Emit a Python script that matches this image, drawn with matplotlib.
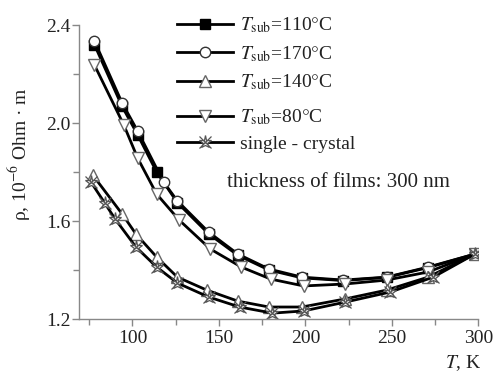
import matplotlib
matplotlib.use('Agg')
from matplotlib import pyplot as plt
from matplotlib.legend_handler import HandlerTuple

plt.rcParams['font.family'] = ['Liberation Serif', 'DejaVu Serif']
plt.rcParams['mathtext.fontset'] = 'stix'

# --- data ---
t_110 = [78, 94, 103, 114, 126, 144, 161, 179, 198, 222, 247, 271, 298]
rho_110 = [2.32, 2.068, 1.952, 1.80, 1.675, 1.548, 1.46, 1.40, 1.368, 1.357, 1.37, 1.41, 1.465]

t_170 = [78, 94, 103, 118, 126, 144, 161, 179, 198, 222, 247, 271, 298]
rho_170 = [2.335, 2.082, 1.967, 1.759, 1.682, 1.555, 1.465, 1.404, 1.371, 1.359, 1.371, 1.412, 1.465]

t_140 = [77, 94, 102, 114, 126, 143, 161, 179, 198, 223, 247, 271, 298]
rho_140 = [1.788, 1.629, 1.547, 1.453, 1.371, 1.318, 1.273, 1.249, 1.249, 1.282, 1.318, 1.371, 1.465]

t_80 = [78, 95, 103, 114, 127, 145, 163, 180, 199, 223, 247, 271, 298]
rho_80 = [2.237, 1.992, 1.857, 1.710, 1.604, 1.486, 1.412, 1.363, 1.335, 1.343, 1.359, 1.392, 1.465]

t_sc = [76, 84, 90, 102, 114, 126, 144, 162, 181, 199, 223, 249, 274, 298]
rho_sc = [1.759, 1.673, 1.608, 1.494, 1.412, 1.347, 1.290, 1.249, 1.224, 1.233, 1.269, 1.310, 1.371, 1.465]

x_ticks = [100, 150, 200, 250, 300]
y_ticks = [1.2, 1.6, 2.0, 2.4]

# --- figure ---
fig = plt.figure(figsize=(4.93, 3.74), dpi=100)
ax = fig.add_axes([0.160, 0.147, 0.810, 0.786])

lw = 2.0
ms = 7.5
h110, = ax.plot(t_110, rho_110, '-s', color='black', lw=lw, ms=6.5,
                mfc='black', mec='black')
h170, = ax.plot(t_170, rho_170, '-o', color='black', lw=lw, ms=ms,
                mfc='white', mec='#333333', mew=1.0)
h80, = ax.plot(t_80, rho_80, '-v', color='black', lw=lw, ms=ms + 1,
               mfc='white', mec='#666666', mew=1.0)
h140, = ax.plot(t_140, rho_140, '-^', color='black', lw=lw, ms=ms + 1,
                mfc='white', mec='#666666', mew=1.0)
hsc1, = ax.plot(t_sc, rho_sc, '-*', color='black', lw=lw, ms=ms + 2,
                mfc='white', mec='#555555', mew=0.9)
hsc2, = ax.plot(t_sc, rho_sc, 'x', color='#555555', ms=ms + 1, mew=0.9)

ax.set_xlim(69, 300)
ax.set_ylim(1.2, 2.4)
ax.set_xticks(x_ticks)
ax.set_yticks(y_ticks)
ax.set_xticks([75, 125, 175, 225, 275], minor=True)
ax.set_yticks([1.4, 1.8, 2.2], minor=True)
ax.set_yticklabels(['1.2', '1.6', '2.0', '2.4'])
ax.tick_params(which='both', direction='out', colors='#888888', labelcolor='#222222',
               labelsize=14, width=1.0)
ax.tick_params(which='major', length=5)
ax.tick_params(which='minor', length=4)
ax.tick_params(axis='x', pad=3)
ax.tick_params(axis='y', pad=1)

for side in ['top', 'right']:
    ax.spines[side].set_visible(False)
for side in ['left', 'bottom']:
    ax.spines[side].set_color('#888888')
    ax.spines[side].set_linewidth(1.0)

ax.set_ylabel('ρ, 10$^{-6}$ Ohm · m', fontsize=14, color='#222222')
ax.yaxis.set_label_coords(-0.115, 0.56)
ax.text(0.962, -0.15, r'$T$, K', transform=ax.transAxes, fontsize=14,
        ha='center', va='center', color='#222222')
ax.text(0.649, 0.466, 'thickness of films: 300 nm', transform=ax.transAxes,
        fontsize=15, ha='center', va='center', color='#222222')

labels_a = [r'$T_{\rm sub}$=110$\degree$C', r'$T_{\rm sub}$=170$\degree$C',
            r'$T_{\rm sub}$=140$\degree$C']
labels_b = [r'$T_{\rm sub}$=80$\degree$C', 'single - crystal']
leg_kw = dict(loc='upper left', frameon=False, fontsize=14, handlelength=2.9,
              handletextpad=0.35, borderpad=0, borderaxespad=0)
leg1 = ax.legend([h110, h170, h140], labels_a, bbox_to_anchor=(0.245, 1.033),
                 labelspacing=0.46, **leg_kw)
ax.add_artist(leg1)
leg2 = ax.legend([h80, (hsc1, hsc2)], labels_b, bbox_to_anchor=(0.245, 0.72),
                 handler_map={tuple: HandlerTuple(ndivide=1)},
                 labelspacing=0.42, **leg_kw)
for leg in (leg1, leg2):
    for t in leg.get_texts():
        t.set_color('#222222')

fig.savefig('out.png', dpi=100)
